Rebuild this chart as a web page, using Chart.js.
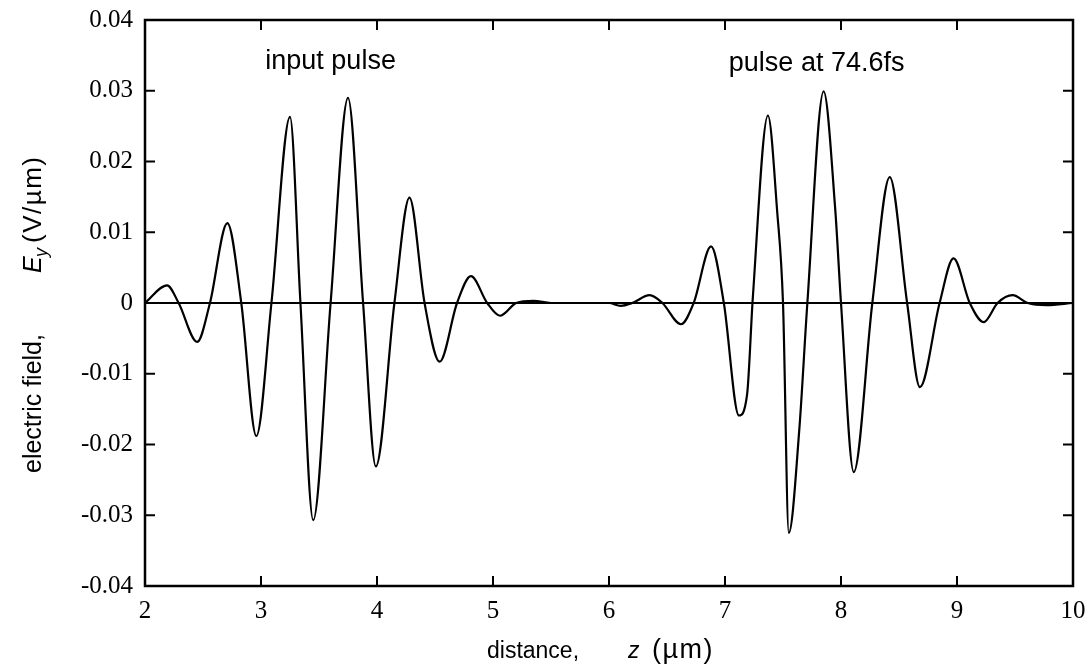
<!DOCTYPE html>
<html>
<head>
<meta charset="utf-8">
<script src="https://cdn.jsdelivr.net/npm/chart.js@4.4.0/dist/chart.umd.min.js"></script>
<style>
  html, body { margin: 0; padding: 0; background: #fff; }
  #wrap { width: 1090px; height: 668px; }
</style>
</head>
<body>
<div id="wrap"><canvas id="fieldChart"></canvas></div>
<script>
// E_y(z): input pulse (left) and the pulse at 74.6 fs (right)
const zInput = [2.00, 2.19, 2.29, 2.45, 2.56, 2.71, 2.83, 2.96, 3.09, 3.25, 3.34, 3.45, 3.60,
  3.75, 3.88, 3.99, 4.15, 4.28, 4.41, 4.54, 4.69, 4.81, 4.95, 5.06, 5.20, 5.35, 5.50];
const eInput = [0, 0.0025, 0, -0.0055, 0, 0.0113, 0, -0.0188, 0, 0.0263, 0, -0.0307, 0,
  0.0290, 0, -0.0231, 0, 0.0149, 0, -0.0083, 0, 0.0038, 0, -0.0018, 0, 0.0003, 0];

const zPulse = [6.00, 6.10, 6.20, 6.35, 6.46, 6.62, 6.73, 6.88, 6.99, 7.12, 7.19, 7.24, 7.37,
  7.45, 7.50, 7.55, 7.64, 7.71, 7.85, 7.95, 8.00, 8.11, 8.27, 8.42, 8.57, 8.68, 8.85, 8.97,
  9.11, 9.23, 9.35, 9.48, 9.61, 9.77, 10.00];
const ePulse = [0, -0.0004, 0, 0.0011, 0, -0.0030, 0, 0.0080, 0, -0.0159, -0.0130, 0.0008, 0.0265,
  0.0129, 0, -0.0325, -0.0180, 0, 0.0299, 0.0133, 0, -0.0239, 0, 0.0178, 0, -0.0119, 0, 0.0063,
  0, -0.0027, 0, 0.0011, 0, -0.0003, 0];

const xTicks = [2, 3, 4, 5, 6, 7, 8, 9, 10];
const yTicks = [-0.04, -0.03, -0.02, -0.01, 0, 0.01, 0.02, 0.03, 0.04];
const yTickLabels = ['-0.04', '-0.03', '-0.02', '-0.01', '0', '0.01', '0.02', '0.03', '0.04'];
const noteLabels = ['input pulse', 'pulse at 74.6fs'];

const points = [];
zInput.forEach((z, i) => points.push({ x: z, y: eInput[i] }));
zPulse.forEach((z, i) => points.push({ x: z, y: ePulse[i] }));

const SANS = '"Liberation Sans", Arial, sans-serif';
const SERIF = '"Liberation Serif", "Times New Roman", serif';

// box round the plot with inward tick marks on all four sides
const framePlugin = {
  id: 'frame',
  afterDatasetsDraw(chart) {
    const { ctx, chartArea: a, scales } = chart;
    const len = 10;
    ctx.save();
    ctx.strokeStyle = '#000';
    ctx.lineWidth = 2.5;
    ctx.strokeRect(a.left, a.top, a.right - a.left, a.bottom - a.top);
    ctx.lineWidth = 2;
    ctx.beginPath();
    xTicks.forEach(v => {
      const px = scales.x.getPixelForValue(v);
      ctx.moveTo(px, a.bottom); ctx.lineTo(px, a.bottom - len);
      ctx.moveTo(px, a.top); ctx.lineTo(px, a.top + len);
    });
    yTicks.forEach(v => {
      const py = scales.y.getPixelForValue(v);
      ctx.moveTo(a.left, py); ctx.lineTo(a.left + len, py);
      ctx.moveTo(a.right, py); ctx.lineTo(a.right - len, py);
    });
    ctx.stroke();
    ctx.restore();
  }
};

// pieces of a title: [text, font, offset along the line, offset across, letter spacing]
function drawPieces(ctx, parts) {
  parts.forEach(p => {
    ctx.font = p[1];
    ctx.letterSpacing = p[4] || '0px';
    ctx.fillText(p[0], p[2], p[3] || 0);
  });
  ctx.letterSpacing = '0px';
}

const textPlugin = {
  id: 'texts',
  afterDraw(chart) {
    const { ctx, scales } = chart;
    ctx.save();
    ctx.fillStyle = '#000';
    ctx.textBaseline = 'alphabetic';
    ctx.textAlign = 'center';
    ctx.font = '27px ' + SANS;
    ctx.fillText(noteLabels[0], scales.x.getPixelForValue(3.6), scales.y.getPixelForValue(0.0331));
    ctx.fillText(noteLabels[1], scales.x.getPixelForValue(7.79), scales.y.getPixelForValue(0.0328));

    ctx.textAlign = 'left';
    // x title
    ctx.save();
    ctx.translate(487, 658);
    drawPieces(ctx, [
      ['distance,', '23px ' + SANS, 0],
      ['z', 'italic 23px ' + SANS, 141],
      ['(\u00b5m)', '27px ' + SANS, 165, 0, '1.5px']
    ]);
    ctx.restore();
    // y title, reading upwards from y = 473
    ctx.save();
    ctx.translate(41, 473);
    ctx.rotate(-Math.PI / 2);
    drawPieces(ctx, [
      ['electric field,', '25px ' + SANS, 0],
      ['E', 'italic 25px ' + SANS, 200],
      ['y', 'italic 18px ' + SANS, 216, 6],
      ['(V/\u00b5m)', '26px ' + SANS, 230, 0, '1.5px']
    ]);
    ctx.restore();
    ctx.restore();
  }
};

new Chart(document.getElementById('fieldChart').getContext('2d'), {
  type: 'line',
  data: {
    datasets: [{
      data: points,
      borderColor: '#000',
      borderWidth: 2.2,
      pointRadius: 0,
      cubicInterpolationMode: 'monotone',
      fill: false
    }]
  },
  options: {
    responsive: true, maintainAspectRatio: false, animation: false,
    layout: { padding: { top: 20, right: 17, left: 0, bottom: 0 } },
    plugins: { legend: { display: false }, tooltip: { enabled: false } },
    scales: {
      x: {
        type: 'linear', min: 2, max: 10,
        afterBuildTicks: s => { s.ticks = xTicks.map(v => ({ value: v })); },
        afterFit: s => { s.height = 82; s.paddingLeft = 0; s.paddingRight = 0; },
        grid: { display: false, drawTicks: false },
        border: { display: false },
        ticks: { padding: 10, color: '#000', font: { family: SERIF, size: 25 }, maxRotation: 0, callback: v => String(v) }
      },
      y: {
        type: 'linear', min: -0.04, max: 0.04,
        afterBuildTicks: s => { s.ticks = yTicks.map(v => ({ value: v })); },
        afterFit: s => { s.width = 145; s.paddingTop = 0; s.paddingBottom = 0; },
        grid: {
          drawTicks: false,
          lineWidth: 2,
          color: c => (c.tick && c.tick.value === 0 ? '#000' : 'rgba(0,0,0,0)')
        },
        border: { display: false },
        ticks: { padding: 12, color: '#000', font: { family: SERIF, size: 25 }, callback: (v, i) => yTickLabels[i] }
      }
    }
  },
  plugins: [framePlugin, textPlugin]
});
</script>
</body>
</html>
